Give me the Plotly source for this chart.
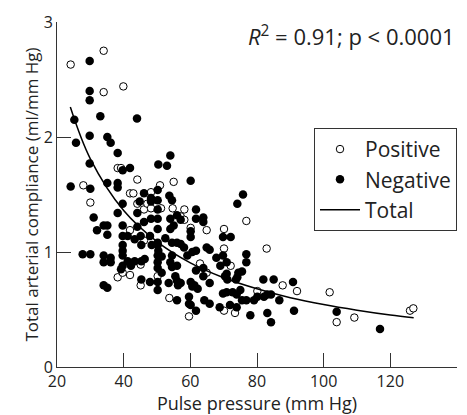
import plotly.graph_objects as go

# pulse pressure (mm Hg) / total arterial compliance (ml/mm Hg)
pos_pp = [24.1, 34.0, 39.9, 34.0, 38.2, 39.2, 27.9, 44.1, 50.9, 55.0,
          30.0, 41.9, 42.9, 44.1, 46.1, 47.1, 48.2, 51.2, 41.9, 46.1,
          45.1, 38.2, 39.7, 41.9, 45.1, 50.2, 53.7, 59.6, 58.2, 57.1,
          58.2, 60.1, 64.9, 70.1, 70.1, 76.8, 82.9, 72.1, 62.9, 64.9,
          80.1, 87.7, 92.0, 70.1, 73.4, 101.8, 103.9, 109.2, 125.9, 126.9,
          48.2, 54.7]
pos_tac = [2.63, 2.75, 2.44, 2.39, 1.73, 1.73, 1.58, 1.63, 1.58, 1.61,
           1.43, 1.51, 1.51, 1.42, 1.37, 1.42, 1.38, 1.38, 1.19, 1.10,
           0.89, 0.78, 0.82, 0.80, 0.71, 0.79, 0.60, 0.44, 1.37, 1.31,
           1.28, 1.21, 1.19, 1.20, 1.03, 1.27, 1.03, 0.88, 0.90, 0.82,
           0.66, 0.71, 0.66, 0.49, 0.47, 0.65, 0.39, 0.43, 0.49, 0.51,
           1.52, 1.38]

neg_pp = [29.8, 29.8, 29.8, 33.0, 44.0, 25.2, 29.8, 35.1, 25.7, 36.1,
          38.2, 29.8, 41.9, 39.7, 50.4, 53.0, 54.0, 24.1, 30.0, 35.1,
          38.2, 38.2, 31.0, 39.7, 46.1, 48.2, 50.2, 53.7, 54.5, 44.8,
          44.1, 48.2, 50.2, 50.2, 50.2, 38.2, 46.1, 48.2, 34.0, 35.1,
          32.0, 35.1, 39.7, 39.7, 44.1, 45.1, 43.3, 45.3, 41.2, 47.9,
          50.2, 50.2, 50.2, 52.5, 54.5, 56.0, 54.0, 56.0, 55.0, 57.1,
          54.0, 27.7, 30.0, 34.0, 36.1, 34.0, 39.7, 39.7, 39.7, 41.2,
          39.7, 42.2, 43.3, 45.3, 46.3, 50.2, 50.2, 50.2, 51.4, 54.0,
          54.5, 56.0, 48.4, 50.4, 45.3, 47.9, 50.2, 50.2, 51.4, 55.5,
          53.5, 56.0, 34.0, 35.1, 56.0, 56.3, 59.6, 59.6, 75.8, 74.1,
          61.7, 60.1, 61.7, 63.9, 63.9, 60.1, 60.1, 69.8, 72.1, 64.9,
          65.8, 57.1, 58.1, 60.6, 59.1, 61.7, 67.8, 69.8, 70.9, 69.0,
          76.8, 76.8, 75.5, 74.4, 63.9, 61.7, 63.9, 54.5, 57.1, 60.1,
          61.2, 62.2, 60.6, 65.8, 70.9, 70.4, 71.1, 73.7, 74.1, 81.9,
          85.0, 90.8, 69.8, 72.7, 73.9, 75.0, 83.1, 84.2, 86.7, 76.8,
          79.1, 80.1, 60.1, 64.2, 65.8, 68.8, 71.9, 61.7, 78.0, 83.1,
          84.2, 91.1, 103.9, 116.9, 82.1, 70.9, 73.9, 75.5, 36.1, 39.2]
neg_tac = [2.66, 2.40, 2.32, 2.18, 2.16, 2.15, 2.01, 2.00, 1.95, 1.95,
           1.86, 1.77, 1.73, 1.71, 1.76, 1.75, 1.84, 1.57, 1.55, 1.60,
           1.60, 1.56, 1.30, 1.42, 1.51, 1.47, 1.54, 1.49, 1.45, 1.44,
           1.34, 1.44, 1.45, 1.37, 1.29, 1.34, 1.26, 1.29, 1.23, 1.23,
           1.19, 1.15, 1.23, 1.14, 1.22, 1.14, 1.11, 1.06, 1.14, 1.14,
           1.20, 1.08, 1.06, 1.12, 1.08, 1.08, 1.29, 1.32, 1.23, 1.28,
           1.20, 0.98, 0.98, 0.97, 0.95, 0.91, 1.06, 1.01, 0.97, 0.92,
           0.88, 0.88, 0.92, 0.92, 0.94, 0.97, 0.91, 0.86, 0.96, 0.91,
           0.87, 0.88, 1.06, 1.01, 0.76, 0.74, 0.74, 0.67, 0.82, 0.79,
           0.73, 0.75, 0.71, 0.69, 0.58, 0.71, 0.61, 0.55, 1.50, 1.42,
           1.37, 1.62, 1.29, 1.30, 1.26, 1.18, 1.13, 1.13, 1.13, 1.04,
           1.02, 1.07, 1.04, 1.00, 0.97, 1.01, 0.95, 0.97, 0.91, 0.88,
           0.98, 0.91, 0.83, 0.82, 0.86, 0.84, 0.79, 0.97, 0.73, 0.74,
           0.71, 0.68, 0.70, 0.73, 0.81, 0.79, 0.76, 0.76, 0.78, 0.76,
           0.76, 0.74, 0.64, 0.65, 0.63, 0.67, 0.63, 0.63, 0.58, 0.58,
           0.58, 0.61, 0.54, 0.58, 0.55, 0.52, 0.54, 0.49, 0.45, 0.47,
           0.39, 0.49, 0.48, 0.33, 0.61, 0.65, 0.52, 0.58, 0.91, 0.85]

# fitted curve
fit_pp = [24, 30, 40, 50, 60, 70, 80, 90, 100, 110, 120, 127]
fit_tac = [2.26, 1.81, 1.36, 1.09, 0.905, 0.776, 0.68, 0.603, 0.543, 0.494, 0.452, 0.428]

FONT = "Open Sans"
AX = "#333333"

fig = go.Figure()
fig.add_trace(go.Scatter(x=pos_pp, y=pos_tac, mode="markers", name="Positive",
                         marker=dict(symbol="circle", size=7.5, color="white",
                                     line=dict(color="black", width=1))))
fig.add_trace(go.Scatter(x=neg_pp, y=neg_tac, mode="markers", name="Negative",
                         marker=dict(symbol="circle", size=8.5, color="black", line=dict(width=0))))
fig.add_trace(go.Scatter(x=fit_pp, y=fit_tac, mode="lines", name="Total",
                         line=dict(color="black", width=1.5, shape="spline")))

# page body adds an 8px offset, so the figure is 8px smaller than the window
fig.update_layout(
    width=459, height=407,
    margin=dict(l=49, r=10, t=14, b=48),
    plot_bgcolor="white", paper_bgcolor="white",
    font=dict(family=FONT, size=16, color="#222222"),
    legend=dict(x=1, y=0.693, xanchor="right", yanchor="top",
                bordercolor=AX, borderwidth=1, bgcolor="white",
                traceorder="normal", itemwidth=40, font=dict(size=21)),
    showlegend=True,
)
fig.update_xaxes(range=[20, 140], tickvals=[20, 40, 60, 80, 100, 120, 140],
                 ticks="inside", ticklen=14, tickcolor=AX, showline=True, linecolor=AX,
                 showgrid=False, zeroline=False, automargin=False,
                 title=dict(text="Pulse pressure (mm Hg)", font=dict(size=18), standoff=0))
fig.update_yaxes(range=[0, 3], tickvals=[0, 1, 2, 3],
                 ticks="inside", ticklen=14, tickcolor=AX, showline=True, linecolor=AX,
                 showgrid=False, zeroline=False, automargin=False,
                 title=dict(text="Total arterial compliance (ml/mm Hg)", font=dict(size=17), standoff=0))

fig.add_annotation(xref="paper", yref="y", x=1, y=2.88, xanchor="right", yanchor="middle",
                   showarrow=False, font=dict(size=22),
                   text="<i>R</i><sup>2</sup> = 0.91; p &lt; 0.0001")

fig.write_html("out.html")
